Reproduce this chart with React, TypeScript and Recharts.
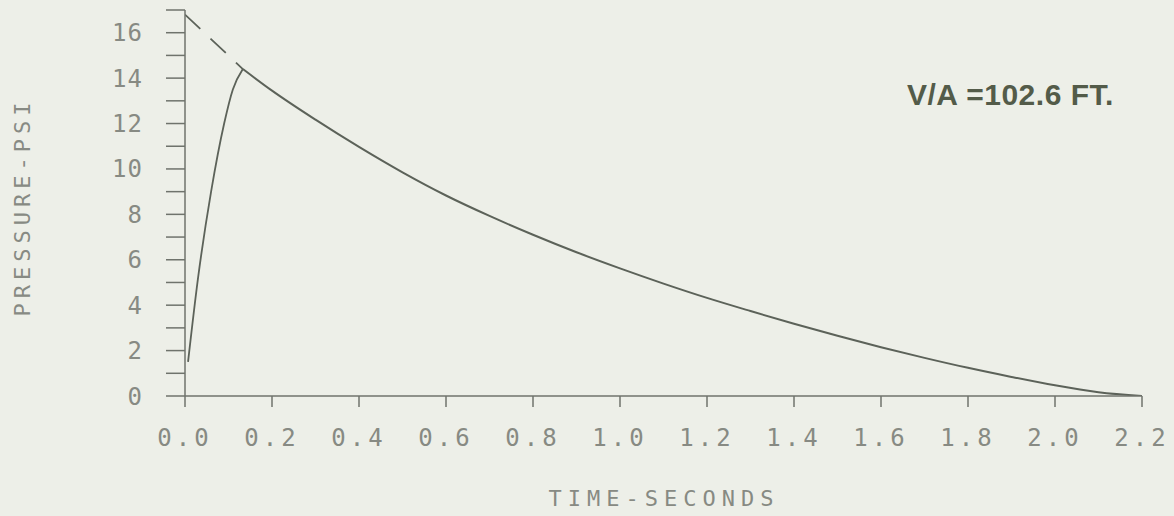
import React from 'react';
import { LineChart, Line, XAxis, YAxis } from 'recharts';

// axis ticks
const timeTicks = [0, 0.2, 0.4, 0.6, 0.8, 1.0, 1.2, 1.4, 1.6, 1.8, 2.0, 2.2];
const pressureTicks = [0, 1, 2, 3, 4, 5, 6, 7, 8, 9, 10, 11, 12, 13, 14, 15, 16, 17];

// rise to peak (solid)
const riseTime = [0.007, 0.03, 0.06, 0.09, 0.11, 0.133];
const risePressure = [1.5, 5.2, 9.0, 12.0, 13.5, 14.4];

// decay after peak (solid)
const decayTime = [0.133, 0.2, 0.3, 0.4, 0.5, 0.6, 0.7, 0.8, 0.9, 1.0, 1.1, 1.2, 1.3, 1.4, 1.5, 1.6, 1.7, 1.8, 1.9, 2.0, 2.1, 2.2];
const decayPressure = [14.4, 13.45, 12.17, 10.97, 9.85, 8.83, 7.93, 7.1, 6.33, 5.62, 4.95, 4.32, 3.74, 3.18, 2.65, 2.15, 1.68, 1.24, 0.84, 0.47, 0.17, 0];

// extrapolated decay back to t = 0 (dashed)
const extrapTime = [0, 0.133];
const extrapPressure = [16.8, 14.4];

const zip = (ts: number[], ps: number[]) => ts.map((t, i) => ({ t, p: ps[i] }));

const riseData = zip(riseTime, risePressure);
const decayData = zip(decayTime, decayPressure);
const extrapData = zip(extrapTime, extrapPressure);

const BG = '#edefe8';
const AXIS = '#6f736c';
const INK = '#5c6259';
const TEXT = '#878a83';
const MONO = '"DejaVu Sans Mono", monospace';

export default function App() {
  return (
    <div style={{ position: 'absolute', left: 0, top: 0, width: 1174, height: 516, background: BG, overflow: 'hidden' }}>
      <LineChart width={1174} height={516} margin={{ top: 10, right: 32, bottom: 0, left: 0 }}>
        <XAxis
          type="number"
          dataKey="t"
          domain={[0, 2.2]}
          ticks={timeTicks}
          tickFormatter={(v: number) => v.toFixed(1)}
          interval={0}
          height={120}
          stroke={AXIS}
          strokeWidth={1.5}
          tickSize={11}
          tickMargin={22}
          tick={{ fill: TEXT, fontFamily: MONO, fontSize: 24, letterSpacing: 4 }}
          allowDataOverflow
        />
        <YAxis
          type="number"
          dataKey="p"
          domain={[0, 17]}
          ticks={pressureTicks}
          tickFormatter={(v: number) => (v % 2 === 0 && v < 17 ? String(v) : '')}
          interval={0}
          width={185}
          stroke={AXIS}
          strokeWidth={1.5}
          tickSize={19}
          tickMargin={23}
          tick={{ fill: TEXT, fontFamily: MONO, fontSize: 24, letterSpacing: 1 }}
          allowDataOverflow
        />
        <Line data={extrapData} dataKey="p" type="linear" stroke={INK} strokeWidth={1.8} strokeDasharray="21 14" dot={false} isAnimationActive={false} />
        <Line data={riseData} dataKey="p" type="monotone" stroke={INK} strokeWidth={1.8} dot={false} isAnimationActive={false} />
        <Line data={decayData} dataKey="p" type="monotone" stroke={INK} strokeWidth={2} dot={false} isAnimationActive={false} />
      </LineChart>

      <div
        style={{
          position: 'absolute',
          left: 22,
          top: 207,
          transform: 'translate(-50%, -50%) rotate(-90deg)',
          fontFamily: MONO,
          fontSize: 22,
          letterSpacing: 5,
          color: TEXT,
          whiteSpace: 'nowrap',
        }}
      >
        PRESSURE-PSI
      </div>

      <div
        style={{
          position: 'absolute',
          left: 664,
          top: 498,
          transform: 'translate(-50%, -50%)',
          fontFamily: MONO,
          fontSize: 22,
          letterSpacing: 6,
          color: TEXT,
          whiteSpace: 'nowrap',
        }}
      >
        TIME-SECONDS
      </div>

      <div
        style={{
          position: 'absolute',
          left: 907,
          top: 78,
          fontFamily: '"Liberation Sans", Arial, sans-serif',
          fontWeight: 'bold',
          fontSize: 30,
          letterSpacing: 0.5,
          lineHeight: '34px',
          color: '#535b49',
          whiteSpace: 'nowrap',
        }}
      >
        V/A =102.6 FT.
      </div>
    </div>
  );
}
